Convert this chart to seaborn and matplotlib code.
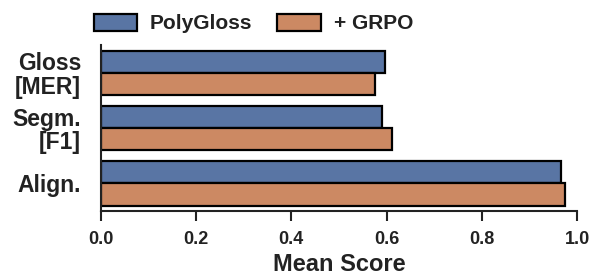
import pandas as pd
import seaborn as sns
from matplotlib import pyplot as plt

categories = ["Gloss\n[MER]", "Segm.\n[F1]", "Align."]
models = ["PolyGloss", "+ GRPO"]
polygloss_scores = [0.597, 0.590, 0.965]
grpo_scores = [0.575, 0.611, 0.975]

df = pd.DataFrame({
    "metric": categories * 2,
    "model": [models[0]] * 3 + [models[1]] * 3,
    "score": polygloss_scores + grpo_scores,
})

sns.set_theme(style="ticks")
plt.rcParams["font.family"] = ["Liberation Sans", "DejaVu Sans"]
plt.rcParams["font.weight"] = "bold"
plt.rcParams["text.color"] = "#222222"

fig, ax = plt.subplots(figsize=(5.92, 2.76), dpi=100)
sns.barplot(data=df, y="metric", x="score", hue="model", orient="h",
            palette="deep", edgecolor="black", linewidth=1.6, ax=ax)

ax.set_xlim(0, 1.0)
ax.set_xticks([0.0, 0.2, 0.4, 0.6, 0.8, 1.0])
ax.set_xlabel("Mean Score", fontsize=17, fontweight="bold", color="#222222", labelpad=4)
ax.set_ylabel("")
ax.tick_params(axis="x", labelsize=13, length=7, width=1.5, pad=7, colors="#222222")
ax.tick_params(axis="y", labelsize=16.5, length=0, pad=14, colors="#222222")
for lab in ax.get_yticklabels():
    lab.set_fontweight("bold")
    lab.set_multialignment("right")
    lab.set_linespacing(1.05)
for lab in ax.get_xticklabels():
    lab.set_fontweight("bold")
for s in ["left", "bottom"]:
    ax.spines[s].set_linewidth(1.5)
    ax.spines[s].set_color("#222222")
sns.despine(ax=ax)

handles, labels = ax.get_legend_handles_labels()
ax.get_legend().remove()
fig.legend(handles, labels, loc="center", bbox_to_anchor=(0.428, 0.915), ncol=2,
           frameon=False, prop={"size": 15, "weight": "bold"}, handlelength=2.1,
           handleheight=0.9, handletextpad=0.6, columnspacing=1.2)

fig.subplots_adjust(left=0.17, right=0.975, top=0.837, bottom=0.235)
fig.savefig("out.png", dpi=100)
